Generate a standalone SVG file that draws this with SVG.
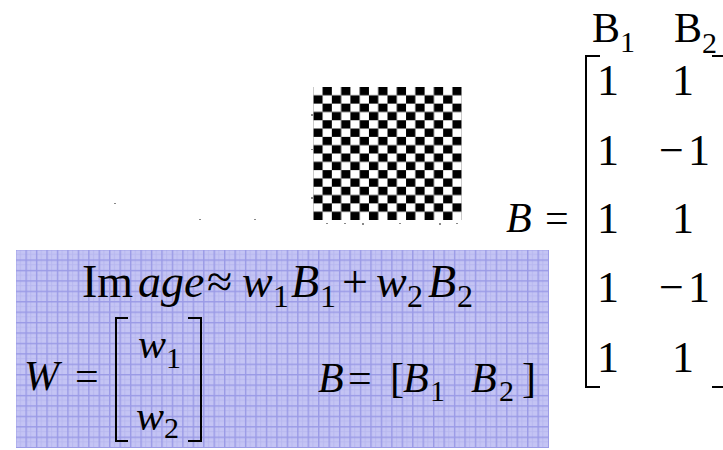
<svg xmlns="http://www.w3.org/2000/svg" width="723" height="450" viewBox="0 0 723 450">
<defs>
<pattern id="grid" patternUnits="userSpaceOnUse" x="15" y="249" width="10.45" height="10.42">
<rect width="10.45" height="10.42" fill="#c4c4f4"/>
<rect x="5" y="0" width="0.8" height="10.42" fill="#b6b6ef"/>
<rect x="0" y="5" width="10.45" height="0.8" fill="#b6b6ef"/>
<rect x="0" y="0" width="1.4" height="10.42" fill="#9a9ae6"/>
<rect x="0" y="0" width="10.45" height="1.4" fill="#9a9ae6"/>
</pattern>
<pattern id="checker" patternUnits="userSpaceOnUse" x="313.3" y="87" width="18.55" height="16.625">
<rect x="9.275" y="0" width="9.275" height="8.3125" fill="#000"/>
<rect x="0" y="8.3125" width="9.275" height="8.3125" fill="#000"/>
</pattern>
<style>
.t{font-family:"Liberation Serif","Times New Roman",serif;font-size:42px;fill:#000}
.big{font-size:46px}
.i{font-style:italic}
.s{font-size:30px}
.s1{font-size:32px}
.m{font-size:44px}
.br{fill:none;stroke:#000;stroke-width:2}
.dot{fill:#888}
</style>
</defs>
<rect width="723" height="450" fill="#fff"/>

<g id="checkerboard">
<rect x="313.3" y="87" width="148.4" height="133" fill="url(#checker)"/>
<rect class="dot" x="311" y="114" width="2" height="2"/>
<rect class="dot" x="311" y="149" width="2" height="1"/>
<rect class="dot" x="311" y="197" width="2" height="2"/>
<rect class="dot" x="326" y="223" width="2" height="1"/>
<rect class="dot" x="344" y="223" width="2" height="1"/>
<rect class="dot" x="362" y="223" width="2" height="2"/>
<rect class="dot" x="399" y="223" width="2" height="1"/>
<rect class="dot" x="439" y="223" width="2" height="2"/>
<rect class="dot" x="456" y="223" width="2" height="1"/>
<rect class="dot" x="114" y="203" width="2" height="1"/>
<rect class="dot" x="199" y="219" width="2" height="1"/>
<rect class="dot" x="254" y="219" width="2" height="1"/>
</g>

<g id="formula-box">
<rect x="16" y="250" width="533" height="198" fill="url(#grid)"/>
<text class="t big" y="297"><tspan x="82">Im</tspan><tspan x="138" class="i">age</tspan><tspan x="207">≈</tspan><tspan x="242" class="i">w</tspan><tspan x="273" dy="10" class="s1">1</tspan><tspan x="291" dy="-10" class="i">B</tspan><tspan x="320" dy="10" class="s1">1</tspan><tspan x="342" dy="-10">+</tspan><tspan x="376" class="i">w</tspan><tspan x="407" dy="10" class="s1">2</tspan><tspan x="428" dy="-10" class="i">B</tspan><tspan x="457" dy="10" class="s1">2</tspan></text>
<text class="t i" x="24" y="390">W</text>
<text class="t" x="75" y="390">=</text>
<path class="br" d="M128,318 H116 V441 H128 M188,318 H201 V441 H188"/>
<text class="t" y="358"><tspan x="138" class="i">w</tspan><tspan x="166" dy="10" class="s">1</tspan></text>
<text class="t" y="430"><tspan x="136" class="i">w</tspan><tspan x="164" dy="8" class="s">2</tspan></text>
<text class="t" y="392"><tspan x="318" class="i">B</tspan><tspan x="348">=</tspan><tspan x="390">[</tspan><tspan x="403" class="i">B</tspan><tspan x="430" dy="9" class="s">1</tspan><tspan x="471" dy="-9" class="i">B</tspan><tspan x="499" dy="9" class="s">2</tspan><tspan x="522" dy="-9">]</tspan></text>
</g>

<g id="matrix-B">
<text class="t" y="42"><tspan x="592">B</tspan><tspan x="620" dy="10" class="s">1</tspan><tspan x="674" dy="-10">B</tspan><tspan x="702" dy="11" class="s">2</tspan></text>
<text class="t i" x="506" y="232">B</text>
<text class="t" x="545" y="232">=</text>
<path class="br" d="M600,56 H586 V387 H600 M712,387 H723 M712,56 H723"/>
<g class="t m">
<text x="597" y="95">1</text><text x="672" y="95">1</text>
<text x="597" y="165">1</text><text x="659" y="165">−</text><text x="688" y="165">1</text>
<text x="597" y="233">1</text><text x="672" y="233">1</text>
<text x="597" y="302">1</text><text x="659" y="302">−</text><text x="688" y="302">1</text>
<text x="597" y="372">1</text><text x="672" y="372">1</text>
</g>
</g>
</svg>
